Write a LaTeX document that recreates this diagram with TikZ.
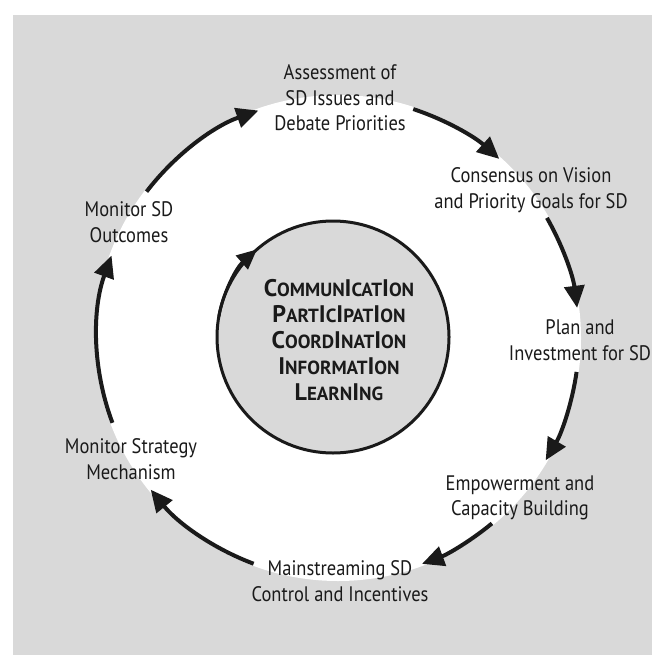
\documentclass[tikz,border=0pt]{standalone}
\usepackage{fontspec}
\setmainfont{PT Sans}[FakeStretch=0.88]
\newfontfamily\titlefont{PT Sans}[FakeStretch=1.0]
\usetikzlibrary{arrows.meta}
\definecolor{bggray}{HTML}{D9D9D9}
\definecolor{ink}{HTML}{1A1A1A}
\newcommand\Bg[1]{{\fontsize{24}{26}\selectfont #1}}
\begin{document}
\begin{tikzpicture}[x=1pt,y=-1pt,
  lbl/.style={align=center, font=\fontsize{21}{25.5}\selectfont, text=ink, inner sep=0pt},
  flow/.style={line width=4pt, draw=ink, -{Triangle[length=22pt,width=20pt]}},
  iflow/.style={line width=3pt, draw=ink, -{Triangle[length=20pt,width=18pt]}},
  title/.style={align=center, font=\titlefont\bfseries\fontsize{19}{26}\selectfont, text=ink, inner sep=0pt}
]
\useasboundingbox (0,0) rectangle (652,655);
\fill[bggray] (13,15) rectangle (652,655);
\coordinate (c) at (338,338);
\coordinate (ci) at (333,337);
\fill[white] (c) circle (243pt);
\draw[line width=3pt, draw=ink, fill=bggray] (ci) circle (116pt);
\draw[iflow] (ci) ++(-170:116) arc[start angle=-170, end angle=-131, radius=116];

\node[title] (center) at (339,340) {\Bg{C}OMMUN\Bg{I}CAT\Bg{I}ON\\ \Bg{P}ART\Bg{I}C\Bg{I}PAT\Bg{I}ON\\ \Bg{C}OORD\Bg{I}NAT\Bg{I}ON\\ \Bg{I}NFORMAT\Bg{I}ON\\ \Bg{L}EARN\Bg{I}NG};

\node[lbl] (assess) at (340,98) {Assessment of\\SD Issues and\\Debate Priorities};
\node[lbl] (consensus) at (531,190) {Consensus on Vision\\and Priority Goals for SD};
\node[lbl] (plan) at (580,340) {Plan and\\Investment for SD};
\node[lbl] (empower) at (520,498) {Empowerment and\\Capacity Building};
\node[lbl] (mainstream) at (340,581) {Mainstreaming SD\\Control and Incentives};
\node[lbl] (strategy) at (131,459) {Monitor Strategy\\Mechanism};
\node[lbl] (outcomes) at (129,222) {Monitor SD\\Outcomes};

\draw[flow] (c) ++(-142.6:241) arc[start angle=-142.6, end angle=-109.3, radius=241];
\draw[flow] (c) ++(-71.8:241) arc[start angle=-71.8, end angle=-48, radius=241];
\draw[flow] (c) ++(-29.9:241) arc[start angle=-29.9, end angle=-7.2, radius=241];
\draw[flow] (c) ++(8.1:241) arc[start angle=8.1, end angle=30.5, radius=241];
\draw[flow] (c) ++(50.3:241) arc[start angle=50.3, end angle=69.6, radius=241];
\draw[flow] (c) ++(110.5:241) arc[start angle=110.5, end angle=141, radius=241];
\draw[flow] (c) ++(159.4:241) arc[start angle=159.4, end angle=200, radius=241];
\end{tikzpicture}
\end{document}
